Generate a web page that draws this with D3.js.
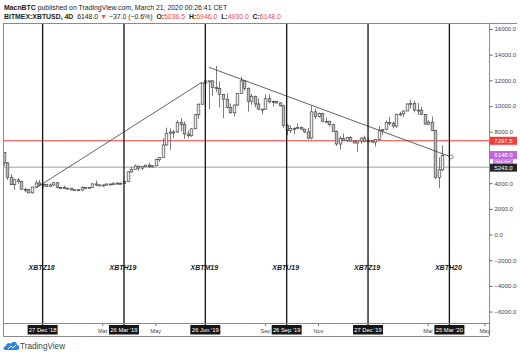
<!DOCTYPE html>
<html><head><meta charset="utf-8">
<script src="https://cdn.jsdelivr.net/npm/d3@7"></script>
<style>body{margin:0;background:#fff}svg{display:block}text{white-space:pre}</style>
</head><body><svg id="c" width="520" height="356"></svg>
<script>
// ---- data ----
const barDates = [
"2018-11-13","2018-11-17","2018-11-21","2018-11-25","2018-11-29","2018-12-03","2018-12-07","2018-12-11","2018-12-15","2018-12-19","2018-12-23","2018-12-27","2018-12-31",
"2019-01-01","2019-01-05","2019-01-09","2019-01-13","2019-01-17","2019-01-21","2019-01-25","2019-01-29","2019-02-02","2019-02-06","2019-02-10","2019-02-14","2019-02-18","2019-02-22","2019-02-26",
"2019-03-02","2019-03-06","2019-03-10","2019-03-14","2019-03-18","2019-03-22","2019-03-26","2019-03-30","2019-04-03","2019-04-07","2019-04-11","2019-04-15","2019-04-19","2019-04-23","2019-04-27",
"2019-05-01","2019-05-05","2019-05-09","2019-05-13","2019-05-17","2019-05-21","2019-05-25","2019-05-29","2019-06-02","2019-06-06","2019-06-10","2019-06-14","2019-06-18","2019-06-22","2019-06-26",
"2019-06-30","2019-07-04","2019-07-08","2019-07-12","2019-07-16","2019-07-20","2019-07-24","2019-07-28","2019-08-01","2019-08-05","2019-08-09","2019-08-13","2019-08-17","2019-08-21","2019-08-25",
"2019-08-29","2019-09-02","2019-09-06","2019-09-10","2019-09-14","2019-09-18","2019-09-22","2019-09-26","2019-09-30","2019-10-04","2019-10-08","2019-10-12","2019-10-16","2019-10-20","2019-10-24",
"2019-10-28","2019-11-01","2019-11-05","2019-11-09","2019-11-13","2019-11-17","2019-11-21","2019-11-25","2019-11-29","2019-12-03","2019-12-07","2019-12-11","2019-12-15","2019-12-19","2019-12-23",
"2019-12-27","2019-12-31",
"2020-01-01","2020-01-05","2020-01-09","2020-01-13","2020-01-17","2020-01-21","2020-01-25","2020-01-29","2020-02-02","2020-02-06","2020-02-10","2020-02-14","2020-02-18","2020-02-22","2020-02-26",
"2020-03-01","2020-03-05","2020-03-09","2020-03-13","2020-03-17"];
const openP = [
6373,5575,4451,3880,4257,4139,3521,3502,3242,3696,4014,3857,3913,
3743,3857,4030,3661,3655,3602,3604,3470,3487,3466,3671,3617,3673,3938,3851,
3860,3846,3936,3879,3996,3988,3963,4123,4880,5060,5324,5167,5298,5399,5279,
5350,5831,5987,6972,7884,7979,7987,8720,8558,7824,7688,8230,9321,10144,11790,
11959,11961,11450,11358,10895,10530,9900,9477,10085,10970,11966,11382,10374,10763,10159,
9754,9757,10575,10334,10360,10241,10019,8486,8104,8260,8245,8321,8205,7988,7514,
9551,9199,9412,8804,8815,8550,8027,7047,7463,7321,7546,7278,7124,7277,7511,
7238,7292,
7193,7410,8079,8193,8723,8658,8445,9358,9393,9614,10163,10214,9690,9686,9341,
8599,8755,8108,4450,5036.5];
const highP = [
6400,5650,4700,4366,4400,4140,3650,3520,3700,4200,4236,3950,3920,
3950,4110,4070,3720,3810,3640,3620,3520,3530,3780,3710,3700,4000,4210,3900,
3880,3940,3940,4050,4090,4050,4130,4930,5300,5450,5350,5320,5420,5600,5370,
5900,6000,7500,8320,8260,8150,8900,9074,8800,8100,8300,9400,10200,11800,13796,
12000,12000,13129,11900,10950,11000,10200,10100,11000,12273,12000,11450,10950,10800,10600,
9800,10900,10900,10450,10400,10300,10100,8600,8500,8350,8660,8400,8220,8300,10021,
9800,9500,9480,9100,8850,8630,8100,7650,7850,7600,7650,7300,7300,7550,7695,
7500,7320,
7450,8450,8200,8880,9164,8800,9400,9550,9650,10200,10500,10400,10250,9950,9380,
8900,9190,8150,6000,6946];
const lowP = [
5358,4249,3850,3474,3950,3500,3280,3220,3191,3680,3750,3600,3700,
3700,3800,3600,3530,3580,3540,3440,3400,3420,3390,3580,3560,3660,3750,3800,
3700,3820,3830,3850,3960,3940,3950,4100,4800,5050,4950,5040,5250,5180,5200,
5340,5650,5980,6900,6600,7500,7900,8050,7450,7500,7600,8200,9000,10100,10500,
9737,10800,11100,9900,9071,9830,9400,9200,10000,10950,11200,9560,10100,9900,9700,
9350,9750,10200,9960,10200,9950,8300,7750,7900,7800,8200,8150,7900,7400,7400,
9000,9100,8750,8700,8400,8000,6900,6617,7300,7200,7250,7100,6435,7050,7150,
7200,7170,
6850,7380,7750,8100,8500,8250,8300,9200,9150,9600,9800,9500,9300,9300,8550,
8500,8050,4300,3600,4930];
const closeP = [
5575,4451,3880,4257,4139,3521,3502,3242,3696,4014,3857,3913,3743,
3857,4030,3661,3655,3602,3604,3470,3487,3466,3671,3617,3673,3938,3851,3860,
3846,3936,3879,3996,3988,3963,4123,4880,5060,5324,5167,5298,5399,5279,5350,
5831,5987,6972,7884,7979,7987,8720,8558,7824,7688,8230,9321,10144,11790,11959,
11961,11450,11358,10895,10530,9900,9477,10085,10970,11966,11382,10374,10763,10159,9754,
9757,10575,10334,10360,10241,10019,8486,8104,8260,8245,8321,8205,7988,7514,9551,
9199,9412,8804,8815,8550,8027,7047,7463,7321,7546,7278,7124,7277,7511,7238,
7292,7193,
7410,8079,8193,8723,8658,8445,9358,9393,9614,10163,10214,9690,9686,9341,8599,
8755,8108,4450,5036.5,6148];

const priceTicks = [16000,14000,12000,10000,8000,4000,2000,0,-2000,-4000,-6000];
const markerDates = ["2018-12-27","2019-03-26","2019-06-26","2019-09-26","2019-12-27","2020-03-25"];
const markerLabels = ["27 Dec '18","26 Mar '19","26 Jun '19","26 Sep '19","27 Dec '19","25 Mar '20"];
const contractLabels = ["XBTZ18","XBTH19","XBTM19","XBTU19","XBTZ19","XBTH20"];
const monthDates = ["2019-03-02","2019-05-01","2019-09-02","2019-11-01","2020-03-01","2020-05-04"];
const monthLabels = ["Mar","May","Sep","Nov","Mar","May"];
const levelPrices = [7297.5, 5243.0];
const lastPrice = 6148.0;
const countdown = "33:21";
const trendStarts = [["2018-12-19",3600],["2019-06-30",13020]];
const trendEnds = [["2019-06-22",11850],["2020-03-27",6040]];

// ---- layout ----
const svg = d3.select("#c");
const L = 3, R = 489, T = 23, B = 323, AB = 336;
const parse = d3.utcParse("%Y-%m-%d");
const bars = barDates.map((d,i)=>({i, date:parse(d), o:openP[i], h:highP[i], l:lowP[i], c:closeP[i]}));
function idx(ds){
  const k = barDates.indexOf(ds);
  if (k>=0) return k;
  const t = parse(ds), last = bars[bars.length-1];
  if (t > last.date) return last.i + (t-last.date)/864e5/4;
  let j = 0; while (j+1<bars.length && bars[j+1].date<=t) j++;
  return j + (t-bars[j].date)/864e5/4;
}
const x = d3.scaleLinear().domain([-0.2,137.2]).range([L,R]);
const y = d3.scaleLinear().domain([0,16000]).range([234.5,29]);

svg.append("rect").attr("width",520).attr("height",356).attr("fill","#fff");
svg.append("defs").append("clipPath").attr("id","pc").append("rect")
  .attr("x",L).attr("y",T).attr("width",R-L).attr("height",B-T);
const pane = svg.append("g").attr("clip-path","url(#pc)");

// horizontal levels
pane.selectAll("line.lvl").data(levelPrices).join("line")
  .attr("x1",L).attr("x2",R).attr("y1",d=>y(d)).attr("y2",d=>y(d))
  .attr("stroke",(d,i)=>i===0?"#f23b3b":"#a0a0a0").attr("stroke-width",1);

// candles
const cg = pane.append("g");
cg.selectAll("line.w").data(bars).join("line")
  .attr("x1",d=>Math.round(x(d.i))+0.5).attr("x2",d=>Math.round(x(d.i))+0.5)
  .attr("y1",d=>y(d.h)).attr("y2",d=>y(d.l)).attr("stroke","#5a5a5a").attr("stroke-width",0.8);
cg.selectAll("rect.b").data(bars).join("rect")
  .attr("x",d=>Math.round(x(d.i))-0.8).attr("width",2.6)
  .attr("y",d=>y(Math.max(d.o,d.c))).attr("height",d=>Math.max(1,Math.abs(y(d.o)-y(d.c))))
  .attr("fill",d=>d.c>=d.o?"#ededed":"#bdbdbd").attr("stroke","#4a4a4a").attr("stroke-width",0.7);

// trend lines
pane.selectAll("line.tr").data(trendStarts).join("line")
  .attr("x1",d=>x(idx(d[0]))).attr("y1",d=>y(d[1]))
  .attr("x2",(d,i)=>x(idx(trendEnds[i][0]))).attr("y2",(d,i)=>y(trendEnds[i][1]))
  .attr("stroke","#3a3a3a").attr("stroke-width",0.8);
pane.append("circle").attr("cx",x(idx(trendEnds[1][0]))).attr("cy",y(trendEnds[1][1]))
  .attr("r",2).attr("fill","#fff").attr("stroke","#555").attr("stroke-width",0.7);

// vertical markers
svg.selectAll("line.vm").data(markerDates).join("line")
  .attr("x1",d=>x(idx(d))).attr("x2",d=>x(idx(d))).attr("y1",T).attr("y2",B+2)
  .attr("stroke","#111").attr("stroke-width",1.3);
svg.selectAll("text.ct").data(contractLabels).join("text")
  .attr("x",(d,i)=>x(idx(markerDates[i]))-1).attr("y",270)
  .attr("text-anchor","middle").attr("font-family","Liberation Sans, Arial, sans-serif")
  .attr("font-size",7).attr("font-weight","bold").attr("font-style","italic").attr("fill","#1a1a1a")
  .text(d=>d);

// frame
const fr = svg.append("g").attr("stroke","#8a8a8a").attr("stroke-width",1).attr("fill","none");
fr.append("line").attr("x1",L).attr("x2",517).attr("y1",T+0.5).attr("y2",T+0.5);
fr.append("line").attr("x1",L+0.5).attr("x2",L+0.5).attr("y1",T).attr("y2",AB);
fr.append("line").attr("x1",L).attr("x2",R).attr("y1",B+0.5).attr("y2",B+0.5);
fr.append("line").attr("x1",L).attr("x2",R).attr("y1",AB+0.5).attr("y2",AB+0.5);
fr.append("line").attr("x1",R+0.5).attr("x2",R+0.5).attr("y1",T).attr("y2",AB);

// price axis
const ya = svg.append("g").attr("transform",`translate(${R+0.5},0)`)
  .call(d3.axisRight(y).tickValues(priceTicks).tickSize(3).tickPadding(2).tickFormat(d3.format(".1f")));
ya.select(".domain").remove();
ya.selectAll("line").attr("stroke","#666");
ya.selectAll("text").attr("font-family","Liberation Sans, Arial, sans-serif").attr("font-size",6).attr("fill","#444");

// price tags
function tag(yy, txt, bg, w, h, xx){
  const g = svg.append("g");
  g.append("rect").attr("x",xx).attr("y",yy-h/2).attr("width",w).attr("height",h).attr("fill",bg);
  g.append("text").attr("x",xx+w/2).attr("y",yy+2.1).attr("text-anchor","middle")
    .attr("font-family","Liberation Sans, Arial, sans-serif").attr("font-size",6).attr("fill","#fff").text(txt);
}
tag(y(levelPrices[0]), d3.format(".1f")(levelPrices[0]), "#f23b3b", 27, 8, R+1);
tag(y(lastPrice)-0.5, d3.format(".1f")(lastPrice), "#c067dd", 27, 8, R+1);
tag(y(lastPrice)+7.5, countdown, "#c98ae3", 20, 8, R+4);
tag(y(levelPrices[1])+0.5, d3.format(".1f")(levelPrices[1]), "#262626", 27, 8, R+1);

// time axis
const ta = svg.append("g");
monthDates.forEach((d,i)=>{
  const xx = x(idx(d));
  ta.append("line").attr("x1",xx).attr("x2",xx).attr("y1",B+1).attr("y2",B+3).attr("stroke","#777");
  ta.append("text").attr("x",xx).attr("y",B+9.5).attr("text-anchor","middle")
    .attr("font-family","Liberation Sans, Arial, sans-serif").attr("font-size",5.6).attr("fill","#444").text(monthLabels[i]);
});
markerDates.forEach((d,i)=>{
  const xx = x(idx(d));
  ta.append("rect").attr("x",xx-15).attr("y",B+2).attr("width",30).attr("height",9.5).attr("fill","#161616");
  ta.append("text").attr("x",xx).attr("y",B+9).attr("text-anchor","middle")
    .attr("font-family","Liberation Sans, Arial, sans-serif").attr("font-size",5.8).attr("fill","#fff").text(markerLabels[i]);
});

// header
const hf = "Liberation Sans, Arial, sans-serif";
const h1 = svg.append("text").attr("x",4).attr("y",9.5).attr("font-family",hf).attr("font-size",6.9).attr("fill","#222");
h1.append("tspan").attr("font-weight","bold").text("MacnBTC");
h1.append("tspan").text(" published on TradingView.com, March 21, 2020 00:26:41 CET");
const red = "#e0504f";
const h2 = svg.append("text").attr("x",4).attr("y",18.5).attr("font-family",hf).attr("font-size",6.9).attr("fill","#222");
h2.append("tspan").attr("font-weight","bold").text("BITMEX:XBTUSD, 4D");
h2.append("tspan").text("  6148.0 ");
h2.append("tspan").attr("fill",red).text("▼");
h2.append("tspan").text(" −37.0 (−0.6%)  ");
[["O:","5036.5"],["H:","6946.0"],["L:","4930.0"],["C:","6148.0"]].forEach((p,i)=>{
  h2.append("tspan").attr("font-weight","bold").text((i?"  ":"")+p[0]);
  h2.append("tspan").attr("fill",red).text(p[1]);
});

// footer logo
const lg = svg.append("g").attr("transform","translate(3,340)");
lg.append("path").attr("d","M2,10 C0,10 0,6 3,6 C3,3 7,2 8,4 C9,1 14,1 14,5 C17,5 17,10 14,10 Z").attr("fill","#2a8ae0");
lg.append("path").attr("d","M5,9 L8,6 L10,8 L13,5").attr("stroke","#fff").attr("stroke-width",1).attr("fill","none");
svg.append("text").attr("x",20).attr("y",349).attr("font-family",hf).attr("font-size",8.2).attr("fill","#444").text("TradingView");
</script></body></html>
